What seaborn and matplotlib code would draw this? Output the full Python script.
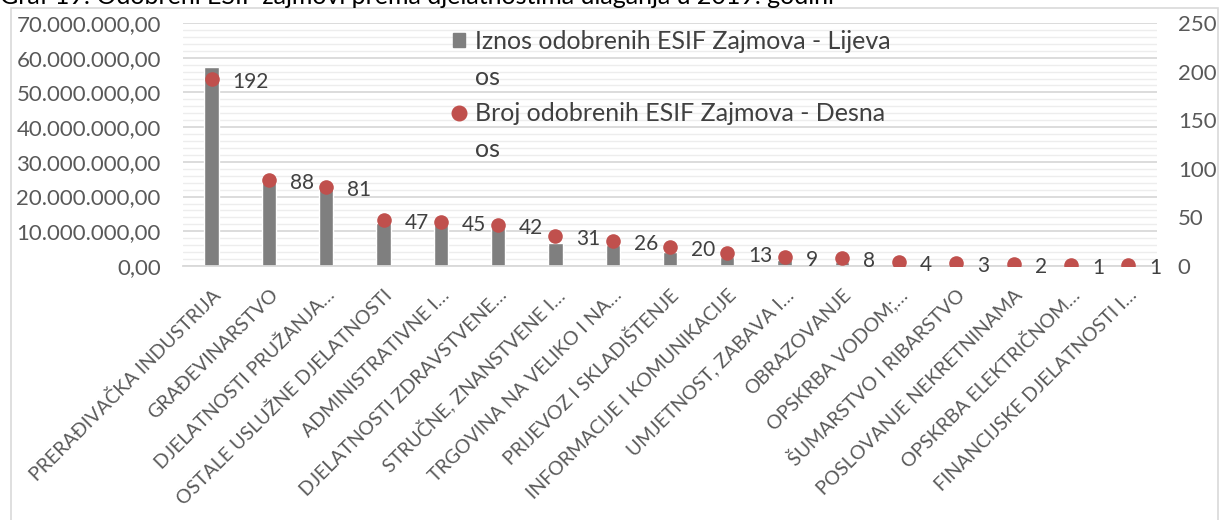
import pandas as pd
import matplotlib.pyplot as plt
import seaborn as sns
from matplotlib.ticker import MultipleLocator, FuncFormatter
from matplotlib.patches import Patch, Rectangle
from matplotlib.lines import Line2D
from matplotlib.transforms import ScaledTranslation

# podaci s grafa
djelatnosti = [
    'PRERAĐIVAČKA INDUSTRIJA', 'GRAĐEVINARSTVO', 'DJELATNOSTI PRUŽANJA…',
    'OSTALE USLUŽNE DJELATNOSTI', 'ADMINISTRATIVNE I…', 'DJELATNOSTI ZDRAVSTVENE…',
    'STRUČNE, ZNANSTVENE I…', 'TRGOVINA NA VELIKO I NA…', 'PRIJEVOZ I SKLADIŠTENJE',
    'INFORMACIJE I KOMUNIKACIJE', 'UMJETNOST, ZABAVA I…', 'OBRAZOVANJE',
    'OPSKRBA VODOM;…', 'ŠUMARSTVO I RIBARSTVO', 'POSLOVANJE NEKRETNINAMA',
    'OPSKRBA ELEKTRIČNOM…', 'FINANCIJSKE DJELATNOSTI I…',
]
iznos = [57.4e6, 24.0e6, 22.5e6, 12.3e6, 11.8e6, 11.0e6, 6.6e6, 6.1e6, 4.1e6,
         2.7e6, 1.7e6, 1.2e6, 0.5e6, 0.4e6, 0.3e6, 0.2e6, 0.1e6]
broj = [192, 88, 81, 47, 45, 42, 31, 26, 20, 13, 9, 8, 4, 3, 2, 1, 1]

lijevi_ticks = [0, 10e6, 20e6, 30e6, 40e6, 50e6, 60e6, 70e6]
desni_ticks = [0, 50, 100, 150, 200, 250]

naslov = 'Graf 19: Odobreni ESIF zajmovi prema djelatnostima ulaganja u 2019. godini'
legenda = ['Iznos odobrenih ESIF Zajmova - Lijeva', 'os',
           'Broj odobrenih ESIF Zajmova - Desna', 'os']

df = pd.DataFrame({'djelatnost': djelatnosti, 'iznos': iznos, 'broj': broj})

sns.set_style('white')
plt.rcParams['font.family'] = ['Lato', 'DejaVu Sans']

SIVA = '#7f7f7f'
CRVENA = '#c0504d'
TEKST = '#595959'

W, H = 1223, 520
fig = plt.figure(figsize=(W / 100, H / 100), dpi=100)
ax = fig.add_axes([183 / W, 1 - 266 / H, (1157 - 183) / W, (266 - 23) / H])

sns.barplot(data=df, x='djelatnost', y='iznos', color=SIVA, saturation=1,
            width=0.25, ax=ax, zorder=2)
ax.set_ylim(0, 70e6)
ax.set_yticks(lijevi_ticks)
ax.yaxis.set_minor_locator(MultipleLocator(2e6))
ax.yaxis.set_major_formatter(FuncFormatter(
    lambda v, p: f'{v:,.2f}'.replace(',', 'X').replace('.', ',').replace('X', '.')))
ax.grid(axis='y', which='major', color='#d9d9d9', lw=1.3, zorder=0)
ax.grid(axis='y', which='minor', color='#ededed', lw=1.0, zorder=0)
ax.set_axisbelow(True)
for s in ['top', 'left', 'right']:
    ax.spines[s].set_visible(False)
ax.spines['bottom'].set_color('#d9d9d9')
ax.spines['bottom'].set_linewidth(1.3)

ax2 = ax.twinx()
sns.stripplot(data=df, x='djelatnost', y='broj', jitter=False, color=CRVENA,
              size=10.5, linewidth=0, ax=ax2, zorder=3)
ax2.set_ylim(0, 250)
ax2.set_yticks(desni_ticks)
for s in ax2.spines.values():
    s.set_visible(False)
ax2.grid(False)
ax.set_xlim(-0.5, len(djelatnosti) - 0.5)

for i, v in enumerate(broj):
    ax2.annotate(str(v), xy=(i, v), xytext=(21, -3), textcoords='offset pixels',
                 ha='left', va='center', fontsize=15, color='#404040')

ax.set_xlabel('')
ax.set_ylabel('')
ax2.set_ylabel('')
ax.set_xticks(range(len(djelatnosti)))
ax.set_xticklabels(djelatnosti, rotation=45, ha='right', rotation_mode='anchor',
                   va='center')
ax.tick_params(axis='x', length=0, pad=19, labelsize=14, labelcolor=TEKST)
ax.tick_params(axis='y', which='both', length=0, pad=16, labelsize=16, labelcolor=TEKST)
ax2.tick_params(axis='y', length=0, pad=15, labelsize=16, labelcolor=TEKST)
# nazivi malo udesno, kao u Excelu
pomak = ScaledTranslation(6 / 100, 0, fig.dpi_scale_trans)
for lbl in ax.get_xticklabels():
    lbl.set_transform(lbl.get_transform() + pomak)

handles = [Patch(color=SIVA), Line2D([], [], ls='none'),
           Line2D([], [], ls='none', marker='o', color=CRVENA, markersize=10.5),
           Line2D([], [], ls='none')]
leg = ax2.legend(handles, legenda, loc='upper left',
                 bbox_to_anchor=(453 / W, 1 - 30 / H), bbox_transform=fig.transFigure,
                 frameon=False, fontsize=18, handlelength=0.5, handleheight=0.5,
                 handletextpad=0.4, labelspacing=0.52, borderpad=0, borderaxespad=0)
for t in leg.get_texts():
    t.set_color('#404040')

# okvir grafa i odrezani naslov iznad
fig.patches.append(Rectangle((11 / W, -0.1), (1218 - 11) / W, 1.1 - 8 / H,
                             transform=fig.transFigure, fill=False,
                             edgecolor='#d9d9d9', lw=1.2))
fig.text(0.0, 1 - 4.5 / H, naslov, ha='left', va='baseline', fontsize=18, color='black')

fig.savefig('out.png', dpi=100)
